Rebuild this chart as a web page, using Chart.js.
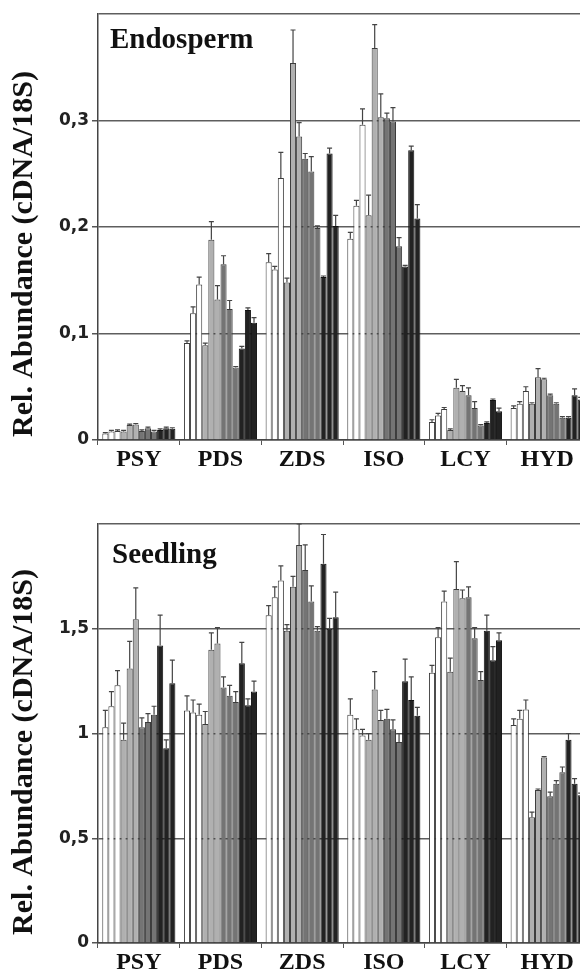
<!DOCTYPE html>
<html>
<head>
<meta charset="utf-8">
<title>Rel. Abundance</title>
<script src="https://cdn.jsdelivr.net/npm/chart.js@4.4.1/dist/chart.umd.min.js"></script>
<style>
    html, body { margin: 0; padding: 0; background: #fff; overflow: hidden; }
    .panel { position: absolute; left: 0; width: 590px; height: 487px; }
</style>
</head>
<body>
<div class="panel" style="top:0"><canvas id="endospermChart"></canvas></div>
<div class="panel" style="top:487px"><canvas id="seedlingChart"></canvas></div>
<script>
// Genes on the x axis
const genes = ['PSY', 'PDS', 'ZDS', 'ISO', 'LCY', 'HYD'];

// 12 samples per gene: 3 white, 3 light grey, 3 dark grey, 3 black
const barColors = ['#ffffff', '#ffffff', '#ffffff', '#b0b0b0', '#b0b0b0', '#b0b0b0',
                   '#747474', '#747474', '#747474', '#222222', '#222222', '#222222'];

// Endosperm - one row per gene, 12 samples each
const endospermPSY = [0.006, 0.008, 0.0085, 0.008, 0.014, 0.0145, 0.0085, 0.011, 0.008, 0.0095, 0.011, 0.0105];
const endospermPDS = [0.091, 0.119, 0.146, 0.089, 0.188, 0.132, 0.165, 0.123, 0.068, 0.086, 0.122, 0.110];
const endospermZDS = [0.167, 0.160, 0.246, 0.148, 0.354, 0.285, 0.264, 0.252, 0.199, 0.153, 0.269, 0.201];
const endospermISO = [0.189, 0.220, 0.296, 0.211, 0.368, 0.303, 0.302, 0.299, 0.182, 0.163, 0.272, 0.208];
const endospermLCY = [0.017, 0.023, 0.029, 0.0095, 0.049, 0.046, 0.042, 0.030, 0.0135, 0.016, 0.0375, 0.027];
const endospermHYD = [0.030, 0.034, 0.046, 0.034, 0.059, 0.057, 0.042, 0.034, 0.021, 0.021, 0.042, 0.038];

const endospermErrPSY = [0.001, 0.001, 0.001, 0.001, 0.001, 0.001, 0.001, 0.001, 0.001, 0.001, 0.001, 0.001];
const endospermErrPDS = [0.002, 0.006, 0.007, 0.002, 0.017, 0.013, 0.008, 0.008, 0.001, 0.002, 0.002, 0.005];
const endospermErrZDS = [0.008, 0.003, 0.024, 0.004, 0.031, 0.013, 0.005, 0.014, 0.002, 0.001, 0.005, 0.010];
const endospermErrISO = [0.006, 0.005, 0.015, 0.019, 0.022, 0.022, 0.005, 0.013, 0.008, 0.001, 0.004, 0.013];
const endospermErrLCY = [0.002, 0.002, 0.0015, 0.001, 0.008, 0.005, 0.007, 0.006, 0.001, 0.001, 0.001, 0.003];
const endospermErrHYD = [0.002, 0.002, 0.004, 0.001, 0.008, 0.001, 0.001, 0.001, 0.001, 0.001, 0.006, 0.002];

// Seedling
const seedlingPSY = [1.03, 1.13, 1.23, 0.97, 1.31, 1.545, 1.03, 1.055, 1.09, 1.42, 0.93, 1.24];
const seedlingPDS = [1.11, 1.10, 1.09, 1.045, 1.40, 1.43, 1.22, 1.18, 1.15, 1.335, 1.135, 1.20];
const seedlingZDS = [1.565, 1.65, 1.73, 1.49, 1.70, 1.90, 1.78, 1.63, 1.49, 1.81, 1.50, 1.555];
const seedlingISO = [1.09, 1.02, 0.99, 0.97, 1.21, 1.065, 1.07, 1.02, 0.96, 1.25, 1.16, 1.085];
const seedlingLCY = [1.29, 1.46, 1.63, 1.295, 1.69, 1.645, 1.65, 1.455, 1.255, 1.49, 1.35, 1.445];
const seedlingHYD = [1.04, 1.07, 1.115, 0.60, 0.73, 0.885, 0.70, 0.76, 0.815, 0.97, 0.76, 0.705];

const seedlingErrPSY = [0.08, 0.07, 0.07, 0.08, 0.13, 0.15, 0.045, 0.04, 0.04, 0.145, 0.04, 0.11];
const seedlingErrPDS = [0.07, 0.06, 0.05, 0.06, 0.08, 0.075, 0.05, 0.05, 0.05, 0.10, 0.03, 0.05];
const seedlingErrZDS = [0.045, 0.05, 0.07, 0.03, 0.05, 0.10, 0.12, 0.075, 0.02, 0.14, 0.05, 0.12];
const seedlingErrISO = [0.075, 0.05, 0.03, 0.03, 0.085, 0.045, 0.045, 0.045, 0.04, 0.105, 0.11, 0.04];
const seedlingErrLCY = [0.035, 0.045, 0.05, 0.065, 0.13, 0.04, 0.05, 0.05, 0.04, 0.075, 0.065, 0.035];
const seedlingErrHYD = [0.03, 0.04, 0.045, 0.025, 0.005, 0.005, 0.02, 0.015, 0.025, 0.03, 0.025, 0.01];

// Y axis ticks (top one has no label)
const endospermTicks = [0, 0.1, 0.2, 0.3, 0.4];
const seedlingTicks = [0, 0.5, 1, 1.5, 2];

const axisTitle = 'Rel. Abundance (cDNA/18S)';

// Error bars (plus side only, with a small cap)
const errorBars = {
    id: 'errorBars',
    afterDatasetsDraw(chart) {
        const ctx = chart.ctx;
        const yScale = chart.scales.y;
        ctx.save();
        ctx.strokeStyle = '#444';
        ctx.lineWidth = 1.2;
        chart.data.datasets.forEach((ds, i) => {
            chart.getDatasetMeta(i).data.forEach((bar, j) => {
                const top = yScale.getPixelForValue(ds.data[j] + ds.errors[j]);
                ctx.beginPath();
                ctx.moveTo(bar.x, bar.y);
                ctx.lineTo(bar.x, top);
                ctx.moveTo(bar.x - 2.5, top);
                ctx.lineTo(bar.x + 2.5, top);
                ctx.stroke();
            });
        });
        ctx.restore();
    }
};

// Panel name and rotated axis title
const panelText = {
    id: 'panelText',
    afterDraw(chart, args, opts) {
        const ctx = chart.ctx;
        ctx.save();
        ctx.fillStyle = '#111';
        ctx.font = 'bold 29px "Liberation Serif"';
        ctx.textBaseline = 'alphabetic';
        ctx.fillText(opts.name, opts.nameX, opts.nameY);
        ctx.translate(opts.axisX, opts.axisY);
        ctx.rotate(-Math.PI / 2);
        ctx.font = 'bold 30px "Liberation Serif"';
        ctx.textAlign = 'center';
        ctx.textBaseline = 'middle';
        ctx.fillText(axisTitle, 0, 0);
        ctx.restore();
    }
};

function formatTick(v) {
    return String(Math.round(v * 10) / 10).replace('.', ',');
}

function buildPanel(canvasId, rows, errRows, ticks, layout) {
    const yMax = ticks[ticks.length - 1];

    const datasets = barColors.map((color, s) => ({
        data: rows.map(r => r[s]),
        errors: errRows.map(r => r[s]),
        backgroundColor: color,
        borderColor: s >= 9 ? '#111' : '#3c3c3c',
        borderWidth: 1,
        borderSkipped: 'bottom',
        barPercentage: 1.0,
        categoryPercentage: 0.895
    }));

    return new Chart(document.getElementById(canvasId), {
        type: 'bar',
        data: { labels: genes, datasets: datasets },
        plugins: [errorBars, panelText],
        options: {
            responsive: true,
            maintainAspectRatio: false,
            animation: false,
            layout: { padding: { top: layout.top, right: 2, left: 0, bottom: 0 } },
            plugins: {
                legend: { display: false },
                tooltip: { enabled: false },
                panelText: layout.text
            },
            scales: {
                x: {
                    afterFit: scale => { scale.height = layout.xHeight; },
                    grid: {
                        offset: true,
                        drawOnChartArea: false,
                        tickLength: 5,
                        color: '#555'
                    },
                    border: { color: '#444', width: 1.5 },
                    ticks: {
                        padding: 3,
                        color: '#111',
                        font: { family: '"Liberation Serif"', size: 24, weight: 'bold', lineHeight: 1 }
                    }
                },
                y: {
                    min: 0,
                    max: yMax,
                    afterFit: scale => { scale.width = 98; },
                    afterBuildTicks: axis => { axis.ticks = ticks.map(v => ({ value: v })); },
                    grid: {
                        color: '#5e5e5e',
                        lineWidth: 1.5,
                        tickLength: 6,
                        tickColor: c => (c.tick && c.tick.value >= yMax) ? 'rgba(0,0,0,0)' : '#555'
                    },
                    border: { color: '#444', width: 1.5 },
                    ticks: {
                        padding: 3,
                        color: '#222',
                        font: { family: '"DejaVu Sans"', size: 17, weight: 'bold' },
                        callback: v => v >= yMax ? '' : formatTick(v)
                    }
                }
            }
        }
    });
}

document.addEventListener('DOMContentLoaded', function () {
    buildPanel('endospermChart',
        [endospermPSY, endospermPDS, endospermZDS, endospermISO, endospermLCY, endospermHYD],
        [endospermErrPSY, endospermErrPDS, endospermErrZDS, endospermErrISO, endospermErrLCY, endospermErrHYD],
        endospermTicks,
        { top: 14, xHeight: 47, text: { name: 'Endosperm', nameX: 110, nameY: 48, axisX: 24, axisY: 254 } });

    buildPanel('seedlingChart',
        [seedlingPSY, seedlingPDS, seedlingZDS, seedlingISO, seedlingLCY, seedlingHYD],
        [seedlingErrPSY, seedlingErrPDS, seedlingErrZDS, seedlingErrISO, seedlingErrLCY, seedlingErrHYD],
        seedlingTicks,
        { top: 37, xHeight: 31, text: { name: 'Seedling', nameX: 112, nameY: 76, axisX: 24, axisY: 265 } });
});
</script>
</body>
</html>
